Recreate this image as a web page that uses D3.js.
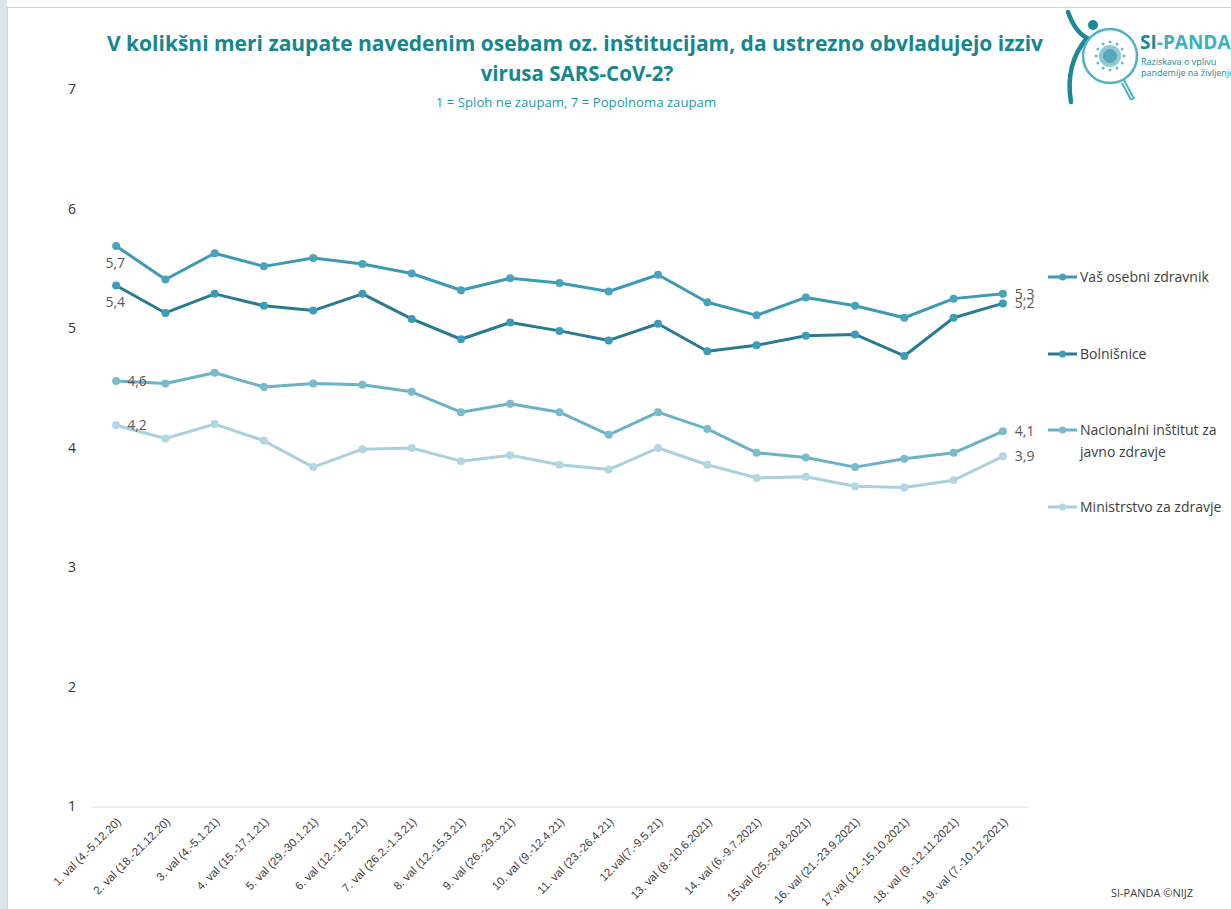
<!DOCTYPE html>
<html>
<head>
<meta charset="utf-8">
<script src="https://cdn.jsdelivr.net/npm/d3@7/dist/d3.min.js"></script>
<style>
  html, body { margin: 0; padding: 0; background: #ffffff; }
  svg { display: block; font-family: "Open Sans", "Noto Sans", sans-serif; }
</style>
</head>
<body>
<svg id="chart" width="1231" height="909"></svg>
<script>
// Survey waves (x categories)
const waves = [
  "1. val (4.-5.12.20)",
  "2. val  (18.-21.12.20)",
  "3. val (4.-5.1.21)",
  "4. val (15.-17.1.21)",
  "5. val (29.-30.1.21)",
  "6. val (12.-15.2.21)",
  "7. val (26.2.-1.3.21)",
  "8. val (12.-15.3.21)",
  "9. val (26.-29.3.21)",
  "10. val (9.-12.4.21)",
  "11. val (23.-26.4.21)",
  "12.val(7.-9.5.21)",
  "13. val (8.-10.6.2021)",
  "14. val (6.-9.7.2021)",
  "15.val (25.-28.8.2021)",
  "16. val (21.-23.9.2021)",
  "17.val (12.-15.10.2021)",
  "18. val (9.-12.11.2021)",
  "19. val (7.-10.12.2021)"
];

// Mean trust score per wave (scale 1–7)
const osebniZdravnik = [5.69, 5.41, 5.63, 5.52, 5.59, 5.54, 5.46, 5.32, 5.42, 5.38, 5.31, 5.45, 5.22, 5.11, 5.26, 5.19, 5.09, 5.25, 5.29];
const bolnisnice     = [5.36, 5.13, 5.29, 5.19, 5.15, 5.29, 5.08, 4.91, 5.05, 4.98, 4.90, 5.04, 4.81, 4.86, 4.94, 4.95, 4.77, 5.09, 5.21];
const nijz           = [4.56, 4.54, 4.63, 4.51, 4.54, 4.53, 4.47, 4.30, 4.37, 4.30, 4.11, 4.30, 4.16, 3.96, 3.92, 3.84, 3.91, 3.96, 4.14];
const ministrstvo    = [4.19, 4.08, 4.20, 4.06, 3.84, 3.99, 4.00, 3.89, 3.94, 3.86, 3.82, 4.00, 3.86, 3.75, 3.76, 3.68, 3.67, 3.73, 3.93];

const seriesNames = ["Vaš osebni zdravnik", "Bolnišnice", "Nacionalni inštitut za javno zdravje", "Ministrstvo za zdravje"];
const yTicks = [1, 2, 3, 4, 5, 6, 7];

const series = [
  { name: seriesNames[0], legend: ["Vaš osebni zdravnik"], values: osebniZdravnik, line: "#3d9ab4", dot: "#4aa3bd", firstLabel: "left" },
  { name: seriesNames[1], legend: ["Bolnišnice"], values: bolnisnice, line: "#2a7b91", dot: "#3a9dba", firstLabel: "left" },
  { name: seriesNames[2], legend: ["Nacionalni inštitut za", "javno zdravje"], values: nijz, line: "#6cb2c7", dot: "#79bacd", firstLabel: "right" },
  { name: seriesNames[3], legend: ["Ministrstvo za zdravje"], values: ministrstvo, line: "#a8d0dd", dot: "#b2d6e2", firstLabel: "right" }
];

const svg = d3.select("#chart");
const W = 1231, H = 909;

// Page frame
svg.append("rect").attr("x", 0).attr("y", 0).attr("width", W).attr("height", H).attr("fill", "#ffffff");
svg.append("rect").attr("x", 0).attr("y", 0).attr("width", 7).attr("height", H).attr("fill", "#dfe5f0");
svg.append("rect").attr("x", 7.5).attr("y", 7.5).attr("width", W).attr("height", H)
  .attr("fill", "#ffffff").attr("stroke", "#d4d4d4").attr("stroke-width", 1);

// Scales
const x = d3.scalePoint().domain(waves).range([92, 1027]).padding(0.49);
const y = d3.scaleLinear().domain([1, 7]).range([806.5, 89.5]);

// Title
const titleColor = "#16868f";
const title = svg.append("g").attr("fill", titleColor).attr("font-weight", 700).attr("text-anchor", "middle");
title.append("text").attr("x", 575).attr("y", 51).attr("font-size", 20.5)
  .attr("textLength", 936).attr("lengthAdjust", "spacingAndGlyphs")
  .text("V kolikšni meri zaupate navedenim osebam oz. inštitucijam, da ustrezno obvladujejo izziv");
title.append("text").attr("x", 577).attr("y", 81).attr("font-size", 20.5)
  .text("virusa SARS-CoV-2?");
svg.append("text").attr("x", 576).attr("y", 107).attr("text-anchor", "middle")
  .attr("font-size", 13.2).attr("fill", "#1f9aa6")
  .text("1 = Sploh ne zaupam, 7 = Popolnoma zaupam");

// Y axis (labels only)
const yAxis = svg.append("g").attr("transform", "translate(76,0)")
  .call(d3.axisLeft(y).tickValues(yTicks).tickSize(0).tickPadding(0).tickFormat(d3.format("d")));
yAxis.select(".domain").remove();
yAxis.selectAll("text").attr("font-size", 14).attr("fill", "#333333").attr("font-family", "Open Sans, sans-serif");

// X axis
const xAxis = svg.append("g").attr("transform", `translate(0,${y(1)})`)
  .call(d3.axisBottom(x).tickSize(0).tickSizeOuter(0));
xAxis.select(".domain").attr("stroke", "#d9d9d9").attr("stroke-width", 1.2);
xAxis.selectAll("text")
  .attr("font-size", 11.5).attr("fill", "#404040")
  .attr("text-anchor", "end")
  .attr("dy", 0).attr("y", 0)
  .attr("transform", "translate(5,16) rotate(-45)");

// Lines and markers
const line = d3.line().x((d, i) => x(waves[i])).y(d => y(d));
const plot = svg.append("g");
// draw lightest first so darker series sit on top
[...series].reverse().forEach(s => {
  const g = plot.append("g");
  g.append("path").datum(s.values).attr("d", line)
    .attr("fill", "none").attr("stroke", s.line).attr("stroke-width", 3)
    .attr("stroke-linejoin", "round");
  g.selectAll("circle").data(s.values).join("circle")
    .attr("cx", (d, i) => x(waves[i])).attr("cy", d => y(d))
    .attr("r", 4).attr("fill", s.dot);
});

// Data labels at first and last wave
const fmt = v => d3.format(".1f")(v).replace(".", ",");
const labels = svg.append("g").attr("font-size", 14).attr("fill", "#595959");
series.forEach(s => {
  const v0 = s.values[0];
  if (s.firstLabel === "left") {
    labels.append("text").attr("x", x(waves[0]) + 9).attr("y", y(v0) + 17)
      .attr("text-anchor", "end").attr("dy", "0.35em").text(fmt(v0));
  } else {
    labels.append("text").attr("x", x(waves[0]) + 11).attr("y", y(v0))
      .attr("text-anchor", "start").attr("dy", "0.35em").text(fmt(v0));
  }
  const n = s.values.length - 1;
  const vn = s.values[n];
  labels.append("text").attr("x", x(waves[n]) + 12).attr("y", y(vn))
    .attr("text-anchor", "start").attr("dy", "0.35em").text(fmt(vn));
});

// Legend
const legendY = [277, 354, 430, 507];
const legend = svg.append("g");
series.forEach((s, i) => {
  const g = legend.append("g").attr("transform", `translate(1048,${legendY[i]})`);
  g.append("line").attr("x1", 0).attr("x2", 29).attr("y1", 0).attr("y2", 0)
    .attr("stroke", s.line).attr("stroke-width", 3);
  g.append("circle").attr("cx", 14.5).attr("cy", 0).attr("r", 3.5).attr("fill", s.dot);
  s.legend.forEach((t, j) => {
    g.append("text").attr("x", 32).attr("y", j * 22).attr("dy", "0.35em")
      .attr("font-size", 14).attr("fill", "#404040").text(t);
  });
});

// Footer
svg.append("text").attr("x", 1152).attr("y", 897).attr("text-anchor", "middle")
  .attr("font-size", 11).attr("fill", "#404040").text("SI-PANDA ©NIJZ");

// SI-PANDA logo
const logo = svg.append("g");
const teal = "#1b8a96", tealLight = "#3bb0bf";
// figure body and raised arm
logo.append("path").attr("d", "M1068,12 C1073,26 1079,34 1087,38 C1075,52 1066,72 1071,102")
  .attr("fill", "none").attr("stroke", teal).attr("stroke-width", 4.5).attr("stroke-linecap", "round");
logo.append("circle").attr("cx", 1093).attr("cy", 25).attr("r", 5).attr("fill", teal);
// magnifying glass
logo.append("circle").attr("cx", 1110).attr("cy", 56).attr("r", 27)
  .attr("fill", "none").attr("stroke", "#4fb3c2").attr("stroke-width", 2.5);
logo.append("line").attr("x1", 1124).attr("y1", 80).attr("x2", 1133).attr("y2", 97)
  .attr("stroke", "#4fb3c2").attr("stroke-width", 2);
logo.append("line").attr("x1", 1122).attr("y1", 83).attr("x2", 1131).attr("y2", 100)
  .attr("stroke", "#4fb3c2").attr("stroke-width", 2);
logo.append("line").attr("x1", 1131).attr("y1", 100).attr("x2", 1135).attr("y2", 97)
  .attr("stroke", "#4fb3c2").attr("stroke-width", 2);
// virus particle
logo.append("circle").attr("cx", 1110).attr("cy", 56).attr("r", 11).attr("fill", "#8fc9d4");
logo.append("circle").attr("cx", 1110).attr("cy", 56).attr("r", 7).attr("fill", "#5aa9b8");
d3.range(12).forEach(k => {
  const a = k * Math.PI / 6;
  logo.append("circle").attr("cx", 1110 + Math.cos(a) * 14).attr("cy", 56 + Math.sin(a) * 14)
    .attr("r", 1.5).attr("fill", "#6cb8c6");
});
const brand = logo.append("text").attr("x", 1140).attr("y", 49).attr("font-size", 19).attr("font-weight", 700);
brand.append("tspan").attr("fill", teal).text("SI");
brand.append("tspan").attr("fill", tealLight).text("-PANDA");
logo.append("text").attr("x", 1141).attr("y", 65).attr("font-size", 9).attr("fill", teal).text("Raziskava o vplivu");
logo.append("text").attr("x", 1141).attr("y", 76).attr("font-size", 9).attr("fill", teal).text("pandemije na življenje");
</script>
</body>
</html>
